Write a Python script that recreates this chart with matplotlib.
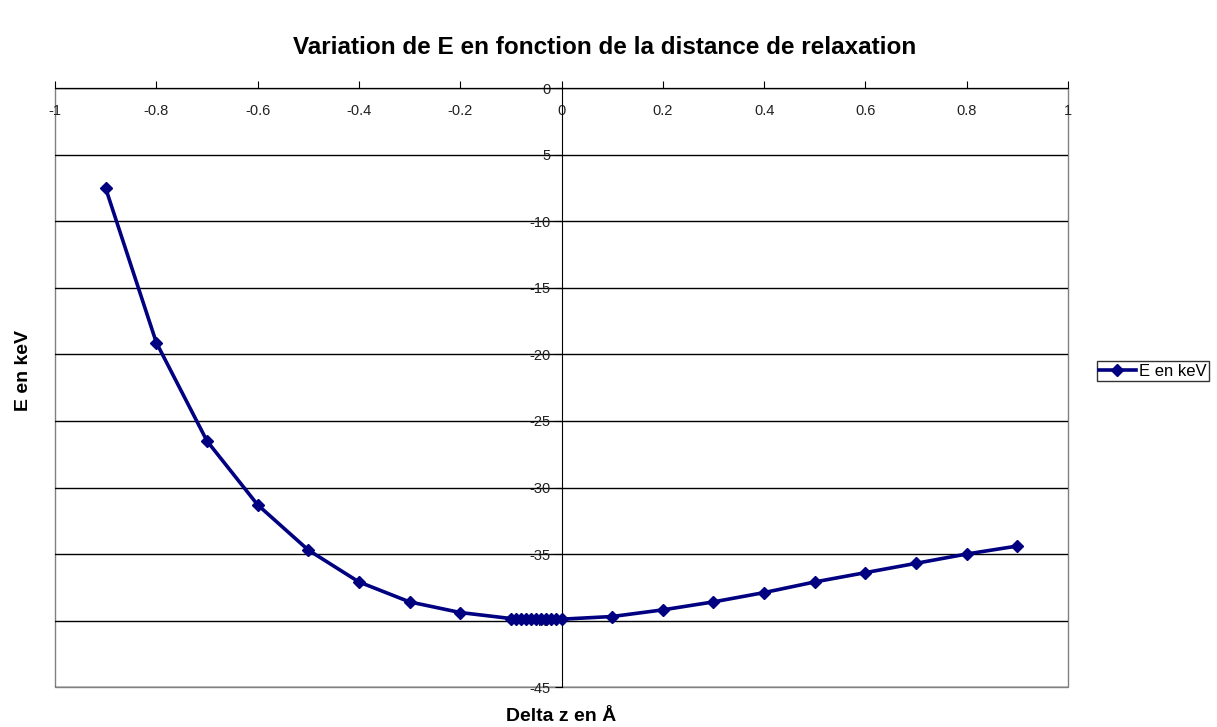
import matplotlib
matplotlib.use("Agg")
import matplotlib.pyplot as plt
from matplotlib.patches import Rectangle

plt.rcParams['font.family'] = ['Liberation Sans', 'DejaVu Sans']

# Relaxation distance (Å) and energy (keV)
delta_z = [-0.9, -0.8, -0.7, -0.6, -0.5, -0.4, -0.3, -0.2,
           -0.1, -0.09, -0.08, -0.07, -0.06, -0.05, -0.04, -0.03, -0.02, -0.01, 0.0,
           0.1, 0.2, 0.3, 0.4, 0.5, 0.6, 0.7, 0.8, 0.9]
energy = [-7.5, -19.1, -26.5, -31.3, -34.7, -37.1, -38.6, -39.4,
          -39.85, -39.86, -39.87, -39.88, -39.88, -39.89, -39.89, -39.9, -39.9, -39.9, -39.9,
          -39.7, -39.2, -38.6, -37.9, -37.1, -36.4, -35.7, -35.0, -34.4]

x_ticks = [-1, -0.8, -0.6, -0.4, -0.2, 0, 0.2, 0.4, 0.6, 0.8, 1]
x_tick_labels = ['-1', '-0.8', '-0.6', '-0.4', '-0.2', '0', '0.2', '0.4', '0.6', '0.8', '1']
y_ticks = [-45, -40, -35, -30, -25, -20, -15, -10, -5, 0]
y_tick_labels = ['-45', '-40', '-35', '-30', '-25', '-20', '-15', '-10', '5', '0']

series_label = 'E en keV'
title = 'Variation de E en fonction de la distance de relaxation'
xlabel = 'Delta z en Å'
ylabel = 'E en keV'

navy = '#000080'

fig = plt.figure(figsize=(12.17, 7.27), dpi=100)
ax = fig.add_axes([0.0452, 0.055, 0.8324, 0.8233])
ax.set_xlim(-1, 1)
ax.set_ylim(-45, 0)

# horizontal gridlines
for yv in y_ticks:
    ax.axhline(yv, color='black', lw=1.0, zorder=1)

# axes crossing at the origin
for s in ['top', 'right']:
    ax.spines[s].set_visible(False)
ax.spines['left'].set_position(('data', 0))
ax.spines['bottom'].set_position(('data', 0))
ax.spines['left'].set_color('black')
ax.spines['bottom'].set_color('black')

# outer frame of the plot area
ax.add_patch(Rectangle((0, 0), 1, 1, transform=ax.transAxes, fill=False,
                       edgecolor='#808080', lw=1.0, zorder=0, clip_on=False))

ax.set_xticks(x_ticks)
ax.set_xticklabels(x_tick_labels)
ax.set_yticks(y_ticks)
ax.set_yticklabels(y_tick_labels)
ax.tick_params(axis='x', direction='in', length=5, pad=11, labelsize=10.5,
               labelcolor='#222222', color='black')
ax.tick_params(axis='y', direction='out', length=5, pad=3, labelsize=10.5,
               labelcolor='#222222', color='black')

ax.plot(delta_z, energy, color=navy, lw=2.6, marker='D', markersize=6.5,
        markerfacecolor=navy, markeredgecolor=navy, label=series_label, zorder=3)

fig.text(0.497, 0.934, title, ha='center', va='center', fontsize=17.5, fontweight='bold')
fig.text(0.461, 0.015, xlabel, ha='center', va='center', fontsize=14, fontweight='bold')
fig.text(0.019, 0.49, ylabel, ha='center', va='center', fontsize=14,
         fontweight='bold', rotation=90)

leg = fig.legend(loc='center left', bbox_to_anchor=(0.901, 0.489), fontsize=12,
                 frameon=True, fancybox=False, borderpad=0.15, handlelength=2.2,
                 handletextpad=0.2, borderaxespad=0)
leg.get_frame().set_edgecolor('black')
leg.get_frame().set_linewidth(1.0)

fig.savefig('out.png', dpi=100)
